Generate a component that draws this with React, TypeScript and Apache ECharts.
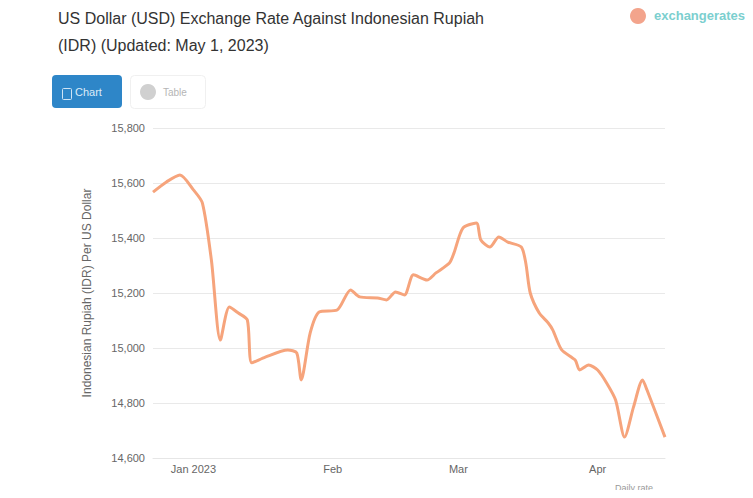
import React, { useEffect, useRef } from "react";
import * as echarts from "echarts";

const TITLE_LINES = [
  "US Dollar (USD) Exchange Rate Against Indonesian Rupiah",
  "(IDR) (Updated: May 1, 2023)",
];
const Y_AXIS_NAME = "Indonesian Rupiah (IDR) Per US Dollar";
const MONTH_LABELS = ["Jan 2023", "Feb", "Mar", "Apr", "May", "Jun", "Jul", "Aug", "Sep", "Oct", "Nov", "Dec"];
const Y_MIN = 14600;
const Y_MAX = 15800;
const Y_STEP = 200;
const X_MIN = "2022-12-23";
const X_MAX = "2023-04-16";

const dates = [
  "2022-12-23", "2022-12-26", "2022-12-29", "2023-01-01", "2023-01-03", "2023-01-05",
  "2023-01-07", "2023-01-09", "2023-01-11", "2023-01-13", "2023-01-14", "2023-01-17",
  "2023-01-22", "2023-01-24", "2023-01-25", "2023-01-27", "2023-01-29", "2023-02-02",
  "2023-02-05", "2023-02-07", "2023-02-11", "2023-02-13", "2023-02-15", "2023-02-17",
  "2023-02-19", "2023-02-22", "2023-02-24", "2023-02-27", "2023-02-28", "2023-03-02",
  "2023-03-05", "2023-03-06", "2023-03-08", "2023-03-10", "2023-03-12", "2023-03-15",
  "2023-03-16", "2023-03-17", "2023-03-19", "2023-03-21", "2023-03-22", "2023-03-24",
  "2023-03-27", "2023-03-28", "2023-03-30", "2023-04-01", "2023-04-03", "2023-04-05",
  "2023-04-07", "2023-04-09", "2023-04-11", "2023-04-12", "2023-04-16",
];
const rates = [
  15567, 15604, 15629, 15575, 15527, 15320,
  15029, 15149, 15127, 15102, 14946, 14967,
  14993, 14982, 14884, 15055, 15131, 15138,
  15211, 15186, 15182, 15175, 15204, 15193,
  15266, 15247, 15273, 15309, 15345, 15436,
  15455, 15393, 15367, 15404, 15385, 15367,
  15309, 15200, 15127, 15091, 15066, 14993,
  14956, 14920, 14938, 14920, 14873, 14811,
  14676, 14786, 14884, 14847, 14676,
];

const FONT = "Liberation Sans, Arial, sans-serif";

export default function App() {
  const ref = useRef<HTMLDivElement>(null);
  useEffect(() => {
    if (!ref.current) return;
    const chart = echarts.init(ref.current, null, { renderer: "svg" });
    const seriesData = dates.map((d, i) => [d, rates[i]]);
    chart.setOption({
      animation: false,
      backgroundColor: "#ffffff",
      title: {
        text: TITLE_LINES.join("\n"),
        left: 53,
        top: 0,
        textStyle: {
          fontSize: 16,
          lineHeight: 27,
          fontWeight: "normal",
          color: "#333333",
          fontFamily: FONT,
        },
      },
      grid: {
        left: 153,
        right: 88,
        top: 128,
        bottom: 40,
        containLabel: false,
        outerBoundsMode: "none",
      },
      xAxis: {
        type: "time",
        min: X_MIN,
        max: X_MAX,
        splitLine: { show: false },
        axisLine: { show: true, lineStyle: { color: "#e6e6e6" } },
        axisTick: { show: false },
        axisLabel: {
          showMinLabel: false,
          showMaxLabel: false,
          margin: 5,
          color: "#666666",
          fontSize: 11,
          fontFamily: FONT,
          formatter: (val: number) => {
            const d = new Date(val);
            if (d.getDate() !== 1) return "";
            return MONTH_LABELS[d.getMonth()];
          },
        },
      },
      yAxis: {
        type: "value",
        min: Y_MIN,
        max: Y_MAX,
        interval: Y_STEP,
        name: Y_AXIS_NAME,
        nameLocation: "middle",
        nameRotate: 90,
        nameGap: 60,
        nameTextStyle: {
          color: "#666666",
          fontSize: 12,
          fontFamily: FONT,
        },
        axisLine: { show: false },
        axisTick: { show: false },
        splitLine: { lineStyle: { color: "#e9e9e9" } },
        axisLabel: {
          margin: 8,
          color: "#666666",
          fontSize: 11,
          fontFamily: FONT,
          formatter: (v: number) => v.toLocaleString("en-US"),
        },
      },
      series: [
        {
          type: "line",
          data: seriesData,
          showSymbol: false,
          smooth: 0.25,
          lineStyle: { color: "#f6a47c", width: 3 },
          itemStyle: { color: "#f6a47c" },
        },
      ],
      graphic: [
        {
          type: "rect",
          left: 52,
          top: 75,
          shape: { width: 70, height: 33, r: 4 },
          style: { fill: "#2e86c8" },
        },
        {
          type: "rect",
          left: 60,
          top: 86,
          shape: { width: 9, height: 11, r: 1 },
          style: { fill: "none", stroke: "#cfe4f5", lineWidth: 1 },
        },
        {
          type: "text",
          left: 75,
          top: 86,
          style: {
            text: "Chart",
            fill: "#dcebf7",
            fontSize: 11,
            fontFamily: FONT,
          },
        },
        {
          type: "rect",
          left: 130,
          top: 75,
          shape: { width: 75, height: 33, r: 4 },
          style: { fill: "#ffffff", stroke: "#f0f0f0", lineWidth: 1 },
        },
        {
          type: "circle",
          shape: { cx: 148, cy: 92, r: 8 },
          style: { fill: "#d0d0d0" },
        },
        {
          type: "text",
          left: 163,
          top: 87,
          style: {
            text: "Table",
            fill: "#b5b5b5",
            fontSize: 10,
            fontFamily: FONT,
          },
        },
        {
          type: "circle",
          shape: { cx: 638, cy: 16, r: 8 },
          style: { fill: "#f3a48c" },
        },
        {
          type: "text",
          left: 654,
          top: 9,
          style: {
            text: "exchangerates",
            fill: "#7ccfcf",
            fontSize: 13,
            fontWeight: "bold",
            fontFamily: FONT,
          },
        },
        {
          type: "text",
          left: 615,
          top: 483,
          style: {
            text: "Daily rate",
            fill: "#999999",
            fontSize: 9,
            fontFamily: FONT,
          },
        },
      ],
    });
    return () => chart.dispose();
  }, []);
  return <div ref={ref} style={{ width: 753, height: 498, margin: -8 }} />;
}
